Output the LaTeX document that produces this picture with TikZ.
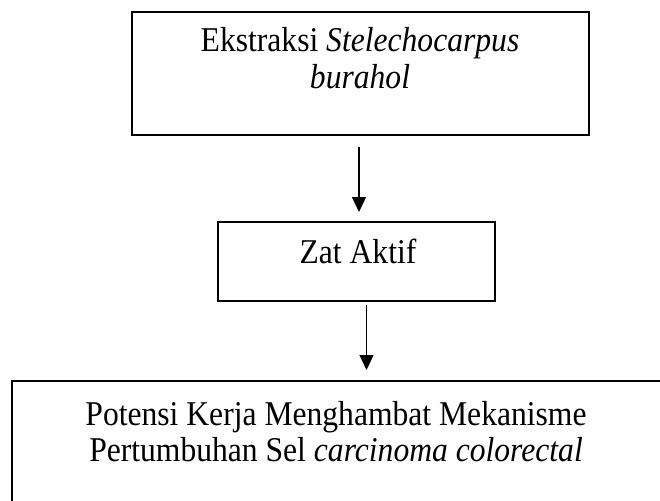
\documentclass[tikz,border=0pt]{standalone}
\usepackage{fontspec}
\setmainfont{Liberation Serif}
\usetikzlibrary{arrows.meta}
\newcommand\twolines[1]{\vtop{\halign{\hfil##\hfil\cr#1\crcr}}}
\newcommand\tall[1]{\scalebox{1}[1.1]{#1}}
\begin{document}
\begin{tikzpicture}[x=1pt,y=-1pt,
  box/.style={draw=black,line width=1.6pt,inner sep=0pt,outer sep=0pt,anchor=north west},
  txt/.style={font=\fontsize{31.6}{33}\selectfont,inner sep=0pt,anchor=base},
  arr/.style={line width=1.3pt,-{Triangle[length=15pt,width=14pt]}}]
\useasboundingbox (0,0) rectangle (660,500);
\clip (0,0) rectangle (660,500);
\node[box,minimum width=457pt,minimum height=123pt] (top) at (132,12) {};
\node[box,minimum width=277pt,minimum height=79pt] (mid) at (218,222) {};
\node[box,minimum width=700pt,minimum height=200pt] (bot) at (12,381) {};
\node[txt] (t1) at (360,52) {\tall{\twolines{Ekstraksi \textit{Stelechocarpus}\cr\textit{burahol}}}};
\node[txt] (t2) at (358,263) {\tall{Zat Aktif}};
\node[txt] (t3) at (336,425) {\tall{\twolines{Potensi Kerja Menghambat Mekanisme\cr Pertumbuhan Sel \textit{carcinoma colorectal}}}};
\draw[arr] ([xshift=-1.5pt,yshift=-12pt]top.south) -- ([xshift=-1.5pt,yshift=10pt]top.south |- mid.north);
\coordinate (a2e) at ([xshift=10pt]mid.south |- bot.north);
\draw[arr] ([xshift=10pt,yshift=-4pt]mid.south) -- ([yshift=11pt]a2e);
\end{tikzpicture}
\end{document}
